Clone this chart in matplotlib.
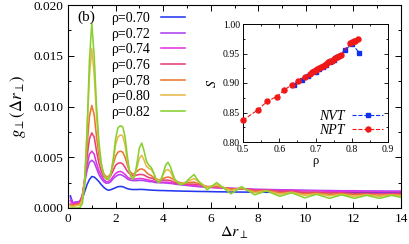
import numpy as np
import matplotlib
matplotlib.use("Agg")
import matplotlib.pyplot as plt
from matplotlib.ticker import MultipleLocator, FormatStrFormatter

plt.rcParams["font.family"] = ["Liberation Serif", "DejaVu Serif"]
plt.rcParams["mathtext.fontset"] = "stix"

# Main panel: g_perp(dr_perp) for several densities, values in units of 1e-3
dr = [0.1, 0.2, 0.3, 0.4, 0.5, 0.6, 0.7, 0.8, 0.9, 1.0,
      1.1, 1.2, 1.3, 1.4, 1.5, 1.6, 1.7, 1.8, 1.9, 2.0,
      2.1, 2.2, 2.3, 2.4, 2.5, 2.6, 2.7, 2.8, 2.9, 3.0,
      3.1, 3.2, 3.3, 3.4, 3.5, 3.6, 3.7, 3.8, 3.9, 4.0,
      4.1, 4.2, 4.3, 4.4, 4.5, 4.7, 4.9, 5.1, 5.3, 5.5,
      5.85, 6.25, 6.85, 7.3, 7.85, 8.35, 8.9, 9.4, 9.95, 10.45,
      11.0, 11.5, 12.05, 12.55, 13.1, 13.6, 14.0]

g_070 = [1.2, 0.5, 0.5, 0.55, 0.6, 0.9, 1.6, 2.3, 2.8, 3.1,
         3.05, 2.85, 2.6, 2.3, 2.05, 1.85, 1.75, 1.8, 1.9, 2.0,
         2.1, 2.12, 2.1, 2.0, 1.9, 1.85, 1.82, 1.82, 1.82, 1.83,
         1.83, 1.82, 1.8, 1.78, 1.76, 1.75, 1.74, 1.73, 1.72, 1.72,
         1.71, 1.7, 1.7, 1.69, 1.68, 1.67, 1.66, 1.65, 1.64, 1.63,
         1.62, 1.6, 1.58, 1.57, 1.56, 1.55, 1.54, 1.53, 1.52, 1.52,
         1.51, 1.5, 1.5, 1.5, 1.5, 1.5, 1.5]
g_072 = [1.0, 0.5, 0.6, 0.6, 0.7, 1.2, 2.5, 3.7, 4.5, 4.7,
         4.5, 3.9, 3.3, 2.9, 2.6, 2.45, 2.45, 2.6, 2.9, 3.1,
         3.25, 3.3, 3.2, 3.05, 2.85, 2.75, 2.7, 2.7, 2.7, 2.72,
         2.72, 2.7, 2.65, 2.6, 2.6, 2.55, 2.5, 2.5, 2.48, 2.48,
         2.46, 2.45, 2.42, 2.4, 2.35, 2.3, 2.25, 2.2, 2.15, 2.1,
         2.05, 2.0, 1.95, 1.9, 1.85, 1.82, 1.8, 1.78, 1.75, 1.73,
         1.72, 1.7, 1.7, 1.68, 1.68, 1.67, 1.67]
g_074 = [0.7, 0.4, 0.5, 0.5, 0.6, 1.2, 2.7, 4.2, 5.3, 5.6,
         5.3, 4.4, 3.7, 3.2, 2.8, 2.6, 2.6, 2.8, 3.1, 3.4,
         3.55, 3.6, 3.5, 3.3, 3.05, 2.9, 2.85, 2.85, 2.87, 2.9,
         2.9, 2.85, 2.8, 2.75, 2.7, 2.65, 2.6, 2.55, 2.55, 2.55,
         2.55, 2.55, 2.5, 2.45, 2.4, 2.35, 2.3, 2.25, 2.2, 2.15,
         2.05, 2.0, 1.9, 1.9, 1.8, 1.8, 1.75, 1.75, 1.7, 1.7,
         1.65, 1.65, 1.65, 1.62, 1.6, 1.6, 1.6]
g_076 = [0.4, 0.3, 0.35, 0.4, 0.5, 1.1, 2.8, 5.0, 6.8, 7.4,
         7.0, 5.6, 4.4, 3.6, 3.1, 2.9, 2.9, 3.2, 3.7, 4.2,
         4.4, 4.45, 4.35, 4.0, 3.6, 3.35, 3.2, 3.2, 3.25, 3.3,
         3.3, 3.25, 3.1, 3.0, 2.95, 2.85, 2.75, 2.7, 2.7, 2.75,
         2.75, 2.75, 2.7, 2.6, 2.5, 2.4, 2.35, 2.35, 2.35, 2.3,
         2.1, 2.1, 1.9, 1.9, 1.75, 1.75, 1.65, 1.65, 1.55, 1.55,
         1.5, 1.5, 1.45, 1.45, 1.4, 1.42, 1.42]
g_078 = [0.3, 0.25, 0.3, 0.35, 0.4, 1.0, 2.8, 6.0, 9.0, 10.1,
         9.2, 7.0, 5.2, 4.1, 3.4, 3.1, 3.1, 3.4, 4.3, 5.1,
         5.5, 5.6, 5.5, 5.0, 4.2, 3.6, 3.35, 3.4, 3.6, 3.8,
         3.85, 3.75, 3.5, 3.3, 3.2, 3.0, 2.85, 2.8, 2.8, 2.9,
         3.0, 3.05, 3.0, 2.85, 2.7, 2.5, 2.45, 2.5, 2.55, 2.4,
         2.1, 2.15, 1.85, 1.9, 1.65, 1.7, 1.5, 1.55, 1.4, 1.45,
         1.35, 1.4, 1.3, 1.35, 1.25, 1.3, 1.3]
g_080 = [0.2, 0.15, 0.2, 0.25, 0.3, 0.8, 2.8, 7.5, 13.0, 15.7,
         13.2, 9.0, 6.0, 4.2, 3.3, 3.0, 2.95, 3.4, 4.6, 6.2,
         7.0, 7.2, 7.1, 6.2, 4.6, 3.4, 3.0, 3.2, 4.0, 4.9,
         5.2, 4.7, 4.1, 3.9, 3.8, 3.4, 2.9, 2.7, 2.8, 3.3,
         3.7, 3.8, 3.6, 3.1, 2.7, 2.4, 2.5, 2.7, 2.9, 2.6,
         2.0, 2.3, 1.7, 2.0, 1.5, 1.7, 1.35, 1.55, 1.25, 1.4,
         1.2, 1.35, 1.15, 1.3, 1.15, 1.3, 1.2]
g_082 = [0.0, 0.0, 0.0, 0.0, 0.05, 0.4, 2.2, 7.5, 14.5, 18.2,
         15.0, 10.0, 6.5, 4.4, 3.3, 2.85, 2.8, 3.3, 4.8, 6.8,
         7.9, 8.1, 8.0, 7.0, 5.0, 3.4, 2.8, 3.1, 4.4, 5.9,
         6.4, 5.6, 4.6, 4.2, 4.0, 3.5, 2.8, 2.5, 2.7, 3.4,
         4.2, 4.5, 4.1, 3.4, 2.8, 2.3, 2.4, 2.9, 3.3, 2.6,
         1.8, 2.5, 1.4, 2.1, 1.3, 1.7, 1.15, 1.5, 1.0, 1.35,
         0.95, 1.3, 0.95, 1.25, 0.95, 1.25, 1.05]

densities = ["0.70", "0.72", "0.74", "0.76", "0.78", "0.80", "0.82"]
curves = [g_070, g_072, g_074, g_076, g_078, g_080, g_082]
colors = ["#2538f0", "#b040f0", "#e035e0", "#e8407a", "#e87830", "#e8b848", "#88d030"]

# Inset: order parameter S vs density
rho_nvt = [0.641, 0.662, 0.68, 0.70, 0.71, 0.72, 0.73, 0.74, 0.75, 0.76, 0.781, 0.801, 0.821]
s_nvt = [0.897, 0.905, 0.912, 0.919, 0.923, 0.927, 0.931, 0.935, 0.939, 0.944, 0.956, 0.966, 0.951]

rho_npt = [0.50, 0.54, 0.567, 0.593, 0.614, 0.634, 0.653, 0.671, 0.685, 0.69,
           0.695, 0.70, 0.705, 0.71, 0.715, 0.72, 0.725, 0.73, 0.735, 0.74,
           0.745, 0.75, 0.755, 0.76, 0.765, 0.77, 0.795, 0.80, 0.805, 0.81, 0.818]
s_npt = [0.837, 0.854, 0.869, 0.877, 0.888, 0.897, 0.904, 0.911, 0.916, 0.918,
         0.920, 0.922, 0.923, 0.925, 0.927, 0.929, 0.931, 0.933, 0.935, 0.937,
         0.938, 0.940, 0.942, 0.944, 0.946, 0.948, 0.968, 0.970, 0.971, 0.972, 0.975]

fig = plt.figure(figsize=(4.09, 2.44), dpi=100)
ax = fig.add_axes([68 / 409, 36 / 244, 333 / 409, 203 / 244])

x = np.array(dr)
for lab, g, c in zip(densities, curves, colors):
    ax.plot(x, np.array(g) * 1e-3, color=c, lw=1.15, label="ρ=" + lab)

ax.set_xlim(0, 14)
ax.set_ylim(0, 0.020)
ax.xaxis.set_major_locator(MultipleLocator(2))
ax.xaxis.set_minor_locator(MultipleLocator(1))
ax.yaxis.set_major_locator(MultipleLocator(0.005))
ax.yaxis.set_minor_locator(MultipleLocator(0.0025))
ax.yaxis.set_major_formatter(FormatStrFormatter("%.3f"))
ax.tick_params(which="both", direction="in", top=True, right=True, labelsize=9.5)
ax.tick_params(which="major", length=4, width=0.7)
ax.tick_params(which="minor", length=2, width=0.7)
for sp in ax.spines.values():
    sp.set_linewidth(0.8)
ax.set_xlabel(r"$\Delta r_{\perp}$", fontsize=11.5, labelpad=0)
ax.set_ylabel(r"$g_{\perp}(\Delta r_{\perp})$", fontsize=12, labelpad=4)

ax.text(77 / 409, 1 - 17 / 244, "(b)", transform=fig.transFigure, fontsize=11,
        ha="left", va="center")

ax.legend(loc="upper left", bbox_to_anchor=(111 / 409, 1 - 12 / 244),
          bbox_transform=fig.transFigure, frameon=False, markerfirst=False,
          fontsize=10, handlelength=1.7, handletextpad=0.8, labelspacing=0.19,
          borderpad=0, borderaxespad=0)

# Inset axes
ins = fig.add_axes([243 / 409, 1 - 142 / 244, 145 / 409, 118 / 244])
ins.plot(rho_nvt, s_nvt, color="#1030f0", ls="--", lw=0.8, marker="s", ms=3.5,
         label="NVT", zorder=2)
ins.plot(rho_npt, s_npt, color="#f01818", ls="--", lw=0.8, marker="o", ms=3.6,
         label="NPT", zorder=3, clip_on=False)
ins.set_xlim(0.5, 0.9)
ins.set_ylim(0.80, 1.00)
ins.xaxis.set_major_locator(MultipleLocator(0.1))
ins.xaxis.set_minor_locator(MultipleLocator(0.05))
ins.yaxis.set_major_locator(MultipleLocator(0.05))
ins.yaxis.set_minor_locator(MultipleLocator(0.025))
ins.xaxis.set_major_formatter(FormatStrFormatter("%.1f"))
ins.yaxis.set_major_formatter(FormatStrFormatter("%.2f"))
ins.tick_params(which="both", direction="in", top=True, right=True, labelsize=7, pad=2)
ins.tick_params(which="major", length=3, width=0.6)
ins.tick_params(which="minor", length=1.5, width=0.6)
for sp in ins.spines.values():
    sp.set_linewidth(0.7)
ins.set_xlabel("ρ", fontsize=9, labelpad=1)
ins.set_ylabel(r"$S$", fontsize=10, labelpad=3)
leg = ins.legend(loc="lower right", bbox_to_anchor=(383 / 409, 1 - 137 / 244),
                 bbox_transform=fig.transFigure, frameon=False, markerfirst=False,
                 fontsize=10, handlelength=2.2, handletextpad=0.6, labelspacing=0.1,
                 borderpad=0, borderaxespad=0)
for t in leg.get_texts():
    t.set_fontstyle("italic")

fig.savefig("out.png", dpi=100)
